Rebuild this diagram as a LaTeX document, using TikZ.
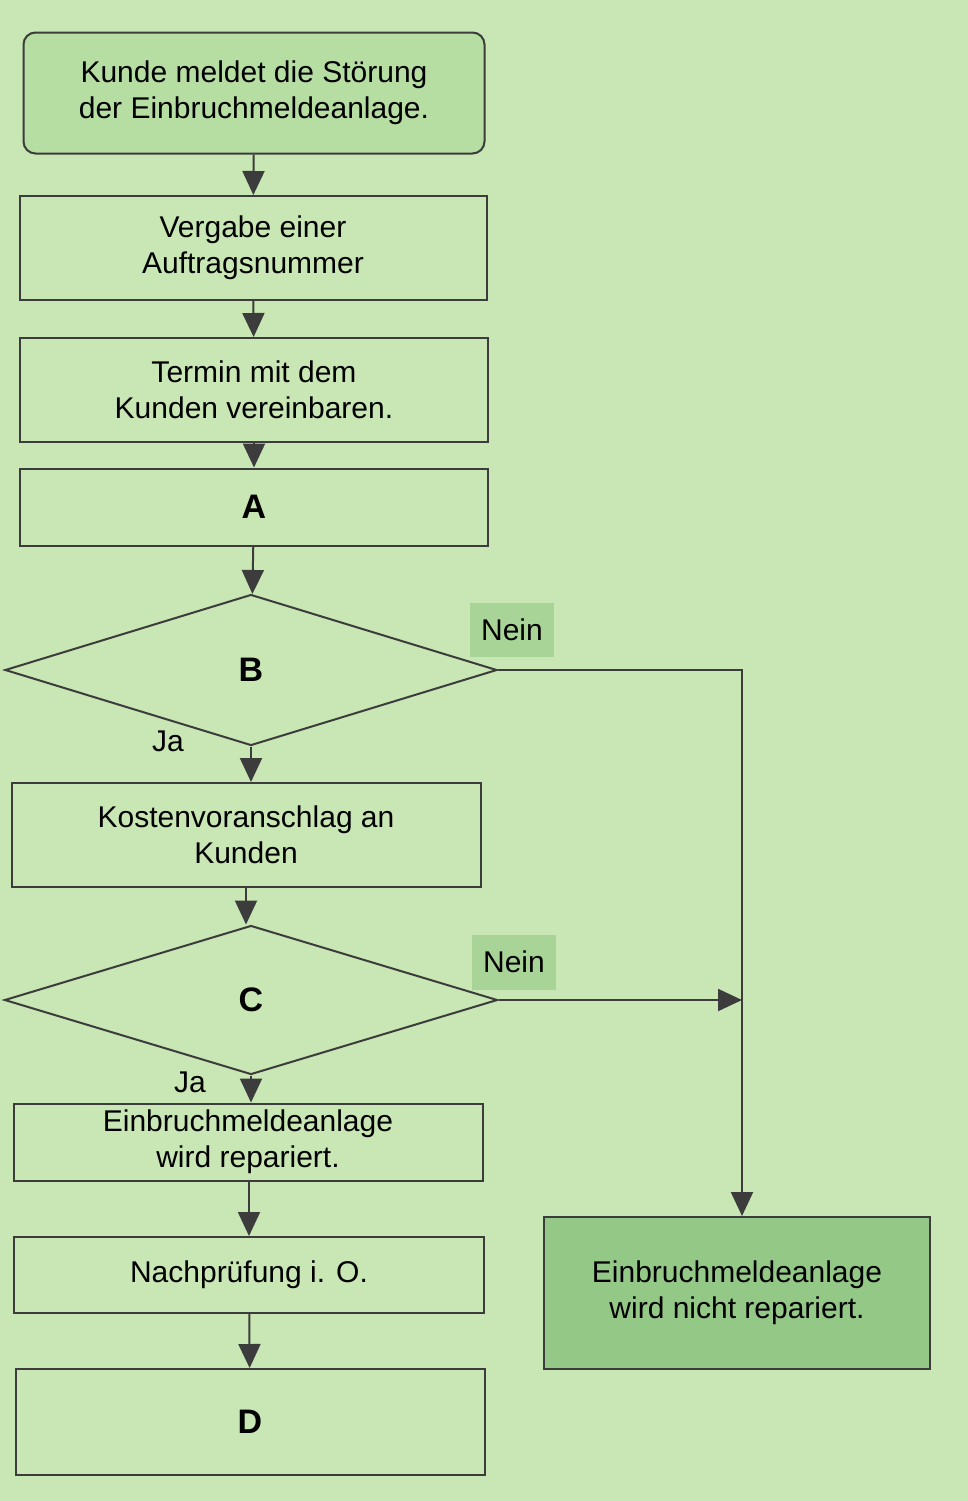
\documentclass[tikz,border=0pt]{standalone}
\usepackage{fontspec}
\setmainfont{Liberation Sans}
\usetikzlibrary{shapes.geometric,arrows.meta}
\definecolor{bg}{HTML}{C8E7B4}
\definecolor{startc}{HTML}{B6DEA2}
\definecolor{endc}{HTML}{93C887}
\definecolor{neinc}{HTML}{A9D497}
\definecolor{ln}{HTML}{3C3C3C}
\begin{document}
\begin{tikzpicture}[x=0.5pt,y=-0.5pt,
  box/.style={draw=ln,line width=1pt,rectangle,inner sep=0pt,align=center,font=\fontsize{15}{18}\selectfont},
  dia/.style={draw=ln,line width=1pt,diamond,inner sep=0pt,aspect=3.2,font=\fontsize{17}{20}\selectfont\bfseries},
  lab/.style={font=\fontsize{15}{18}\selectfont,inner sep=0pt},
  arr/.style={draw=ln,line width=1pt,-{Triangle[length=12pt,width=11pt]}}]
\fill[bg] (0,0) rectangle (968,1501);
\useasboundingbox (0,0) rectangle (968,1501);
\node[box,fill=startc,rounded corners=6pt,minimum width=461\pgflinewidth*0+230.5pt,minimum height=60.5pt] (s) at (254,93) {Kunde meldet die Störung\\ der Einbruchmeldeanlage.};
\node[box,minimum width=233.5pt,minimum height=52pt] (v) at (253,248) {Vergabe einer\\ Auftragsnummer};
\node[box,minimum width=234pt,minimum height=52pt] (t) at (254,390) {Termin mit dem\\ Kunden vereinbaren.};
\node[box,minimum width=234pt,minimum height=38.5pt,font=\fontsize{17}{20}\selectfont\bfseries] (a) at (254,507) {A};
\node[dia,minimum width=246pt,minimum height=75.5pt] (b) at (251,670) {B};
\node[box,minimum width=234.5pt,minimum height=52pt] (k) at (246,835) {Kostenvoranschlag an\\ Kunden};
\node[dia,minimum width=246.5pt,minimum height=74.5pt] (c) at (251,1000) {C};
\node[box,minimum width=234.5pt,minimum height=38.5pt] (e) at (248,1142) {Einbruchmeldeanlage\\ wird repariert.};
\node[box,minimum width=235pt,minimum height=38pt] (n) at (249,1275) {Nachprüfung i. O.};
\node[box,minimum width=234.5pt,minimum height=53pt,font=\fontsize{17}{20}\selectfont\bfseries] (d) at (250,1422) {D};
\node[box,fill=endc,minimum width=193pt,minimum height=76pt] (r) at (737,1293) {Einbruchmeldeanlage\\ wird nicht repariert.};
\node[lab,fill=neinc,minimum width=42pt,minimum height=27pt] (n1) at (512,630) {Nein};
\node[lab,fill=neinc,minimum width=42pt,minimum height=27.5pt] (n2) at (514,962) {Nein};
\node[lab] (j1) at (168,741) {Ja};
\node[lab] (j2) at (190,1082) {Ja};
\coordinate (cb) at (742,670);
\coordinate (cc) at (742,1000);
\draw[arr] (s) -- (v);
\draw[arr] (v) -- (t);
\draw[arr] (t) -- (a);
\draw[arr] (a) -- (b);
\draw[arr] (b.south) -- (b.south|-k.north);
\draw[arr] (k.north|-k.south) -- (k.north|-c.north);
\draw[arr] (c.south) -- (c.south|-e.north);
\draw[arr] (n.north|-e.south) -- (n.north);
\draw[arr] (n) -- (d);
\draw[arr] (b.east) -- (cb) -- (cb|-r.north);
\draw[arr] (c.east) -- (cc);
\end{tikzpicture}
\end{document}
